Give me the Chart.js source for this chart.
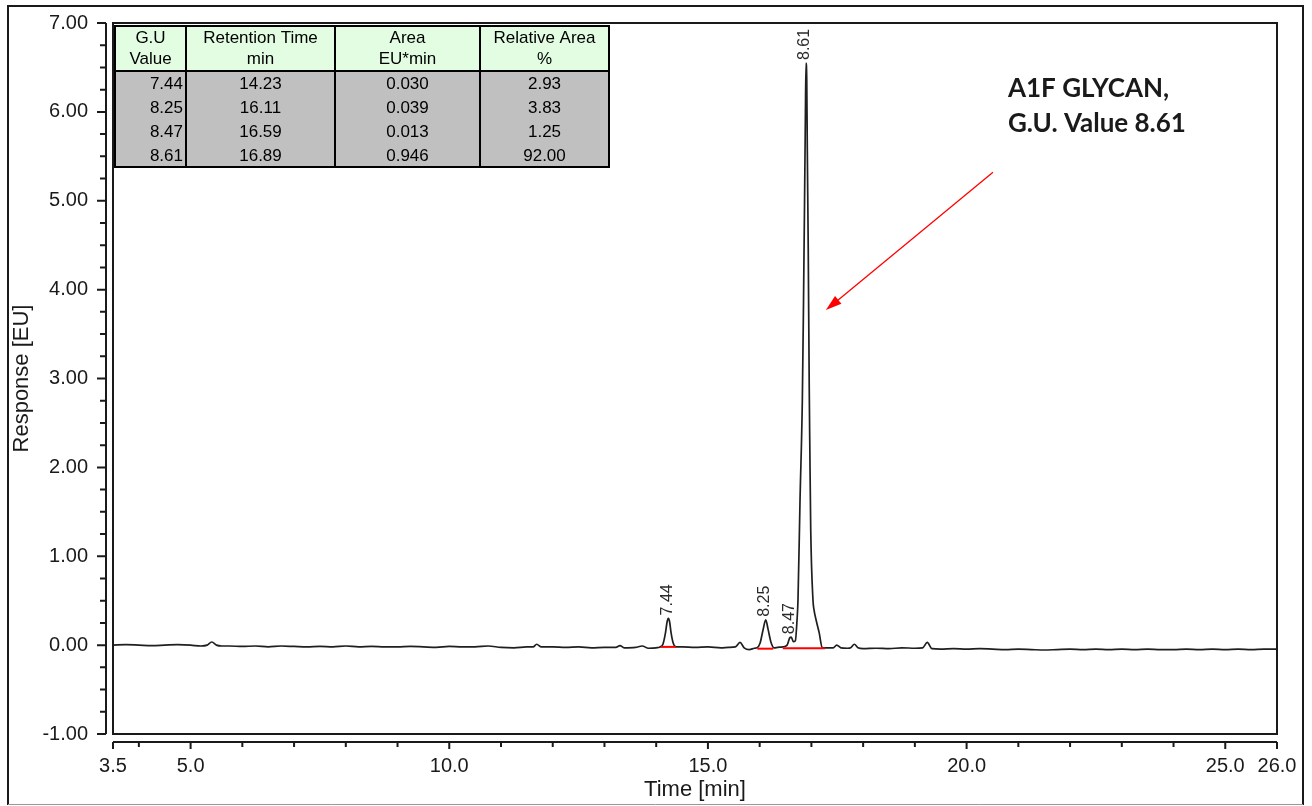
<!DOCTYPE html>
<html>
<head>
<meta charset="utf-8">
<title>A1F glycan chromatogram</title>
<script src="https://cdn.jsdelivr.net/npm/chart.js"></script>
<style>
  html, body { margin: 0; padding: 0; background: #ffffff; }
  #chart { display: block; }
</style>
</head>
<body>
<canvas id="chart" width="1312" height="806"></canvas>
<script>
// trace: time [min] / response [EU]
const traceTime = [
  3.5, 3.75, 4.0, 4.25, 4.5, 4.75, 5.0, 5.2, 5.32, 5.41, 5.5, 5.6, 5.75,
  6.0, 6.25, 6.5, 6.75, 7.0, 7.25, 7.5, 7.75, 8.0, 8.25, 8.5, 8.75,
  9.0, 9.25, 9.5, 9.75, 10.0, 10.25, 10.5, 10.75, 11.0, 11.25, 11.5, 11.62,
  11.69, 11.78, 12.0, 12.25, 12.5, 12.75, 13.0, 13.22, 13.3, 13.38, 13.6, 13.73,
  13.85, 14.0, 14.074, 14.13, 14.18, 14.21, 14.235, 14.26, 14.287, 14.33, 14.38,
  14.5, 14.75, 15.0, 15.25, 15.4, 15.53, 15.62, 15.7, 15.8, 15.9,
  15.949, 16.007, 16.065, 16.117, 16.162, 16.22, 16.278, 16.35,
  16.446, 16.53, 16.58, 16.61, 16.65, 16.69, 16.722, 16.741, 16.78, 16.825,
  16.848, 16.868, 16.883, 16.896, 16.91, 16.921, 16.939, 16.958, 16.97, 16.987,
  17.03, 17.05, 17.1, 17.15, 17.21, 17.3, 17.42, 17.49, 17.57, 17.7, 17.76,
  17.83, 17.9, 18.0, 18.25, 18.5, 18.75, 19.0, 19.15, 19.24, 19.33, 19.5,
  19.75, 20.0, 20.25, 20.5, 20.75, 21.0, 21.25, 21.5, 21.75, 22.0, 22.25,
  22.5, 22.75, 23.0, 23.25, 23.5, 23.75, 24.0, 24.25, 24.5, 24.75, 25.0,
  25.25, 25.5, 25.75, 26.0
];
const traceResp = [
  0.0, 0.005, 0.0, -0.005, 0.0, 0.005, 0.0, -0.01, 0.0, 0.035, 0.0, -0.01, -0.01,
  -0.015, -0.01, -0.02, -0.01, -0.015, -0.02, -0.015, -0.02, -0.01, -0.02, -0.015, -0.02,
  -0.02, -0.015, -0.02, -0.025, -0.015, -0.02, -0.02, -0.01, -0.025, -0.03, -0.02, -0.02,
  0.01, -0.02, -0.02, -0.025, -0.02, -0.03, -0.025, -0.025, -0.005, -0.03, -0.025, -0.01,
  -0.035, -0.03, -0.02, 0.01, 0.14, 0.26, 0.30, 0.26, 0.14, 0.02, -0.02,
  -0.02, -0.025, -0.02, -0.03, -0.025, -0.02, 0.03, -0.03, -0.05, -0.035,
  -0.03, 0.02, 0.17, 0.285, 0.18, 0.03, -0.03, -0.025,
  -0.02, 0.0, 0.08, 0.09, 0.04, 0.05, 0.28, 0.51, 1.63, 2.76,
  3.88, 5.01, 5.91, 6.55, 6.36, 5.57, 4.45, 2.91, 2.20, 1.30,
  0.51, 0.40, 0.26, 0.14, -0.03, -0.03, -0.03, 0.0, -0.03, -0.035, -0.03,
  0.01, -0.03, -0.04, -0.035, -0.04, -0.03, -0.035, -0.03, 0.03, -0.04, -0.045,
  -0.04, -0.045, -0.04, -0.045, -0.05, -0.045, -0.05, -0.055, -0.05, -0.045, -0.05,
  -0.045, -0.05, -0.045, -0.05, -0.045, -0.05, -0.05, -0.045, -0.05, -0.045, -0.05,
  -0.045, -0.05, -0.045, -0.045
];

// red integration baselines
const integStart = [14.09, 15.955, 16.446];
const integEnd = [14.378, 16.264, 17.264];
const integLevel = [-0.02, -0.04, -0.035];

// peak table
const guValues = [7.44, 8.25, 8.47, 8.61];
const retTimes = [14.23, 16.11, 16.59, 16.89];
const areas = [0.030, 0.039, 0.013, 0.946];
const relAreas = [2.93, 3.83, 1.25, 92.00];
const tableHeads = [['G.U', 'Value'], ['Retention Time', 'min'], ['Area', 'EU*min'], ['Relative Area', '%']];

// axes
const xTickValues = [3.5, 5.0, 10.0, 15.0, 20.0, 25.0, 26.0];
const xMin = 3.5, xMax = 26.0, xMinorStep = 1;
const yMin = -1, yMax = 7, yStep = 1, yMinorStep = 0.25;

const noteLines = ['A1F GLYCAN,', 'G.U. Value 8.61'];

const FONT = "'Liberation Sans', Arial, sans-serif";
Chart.defaults.font.family = FONT;
Chart.defaults.color = '#1a1a1a';

const decor = {
  id: 'decor',
  afterDraw(chart) {
    const ctx = chart.ctx;
    const a = chart.chartArea;
    const xs = chart.scales.x, ys = chart.scales.y;
    ctx.save();

    // outer frame
    ctx.strokeStyle = '#1a1a1a';
    ctx.lineWidth = 2;
    ctx.beginPath();
    ctx.moveTo(8, 805); ctx.lineTo(8, 6); ctx.lineTo(1303, 6); ctx.lineTo(1303, 805);
    ctx.stroke();
    ctx.strokeStyle = '#999';
    ctx.lineWidth = 1;
    ctx.beginPath(); ctx.moveTo(8, 804.5); ctx.lineTo(1303, 804.5); ctx.stroke();

    // plot box
    ctx.strokeStyle = '#1a1a1a';
    ctx.lineWidth = 2;
    ctx.strokeRect(a.left, a.top, a.right - a.left, a.bottom - a.top);

    // y axis, set off to the left of the box
    const ax = a.left - 7;
    ctx.beginPath();
    ctx.moveTo(ax, ys.getPixelForValue(yMax));
    ctx.lineTo(ax, ys.getPixelForValue(yMin));
    for (let v = yMin; v <= yMax + 1e-9; v += yMinorStep) {
      const py = ys.getPixelForValue(v);
      const major = Math.abs(v - Math.round(v)) < 1e-9;
      ctx.moveTo(ax, py);
      ctx.lineTo(ax - (major ? 9 : 6), py);
    }
    ctx.stroke();

    // x axis, set off below the box
    const ay = a.bottom + 8;
    ctx.beginPath();
    ctx.moveTo(xs.getPixelForValue(xMin), ay);
    ctx.lineTo(xs.getPixelForValue(xMax), ay);
    const xt = [xMin];
    for (let v = Math.ceil(xMin); v <= xMax; v += xMinorStep) xt.push(v);
    xt.forEach(v => {
      const px = xs.getPixelForValue(v);
      ctx.moveTo(px, ay);
      ctx.lineTo(px, ay + (xTickValues.includes(v) ? 7 : 5));
    });
    ctx.stroke();

    // peak labels
    ctx.fillStyle = '#2a2a2a';
    ctx.font = '16px ' + FONT;
    guValues.forEach((g, i) => {
      let apex = -Infinity;
      traceTime.forEach((t, j) => {
        if (Math.abs(t - retTimes[i]) < 0.05) apex = Math.max(apex, traceResp[j]);
      });
      const px = xs.getPixelForValue(retTimes[i]) - 1;
      const py = ys.getPixelForValue(apex) - 3;
      ctx.save();
      ctx.translate(px, py);
      ctx.rotate(-Math.PI / 2);
      ctx.textAlign = 'left';
      ctx.textBaseline = 'middle';
      ctx.fillText(g.toFixed(2), 0, 0);
      ctx.restore();
    });

    // peak table
    const tl = a.left + 2, tt = a.top + 3;
    const edges = [0, 71, 220, 365, 494].map(d => tl + d);
    const headH = 45, rowH = 24;
    const tb = tt + headH + rowH * guValues.length;
    ctx.fillStyle = '#e2fde2';
    ctx.fillRect(edges[0], tt, edges[4] - edges[0], headH);
    ctx.fillStyle = '#c0c0c0';
    ctx.fillRect(edges[0], tt + headH, edges[4] - edges[0], tb - tt - headH);
    ctx.strokeStyle = '#000';
    ctx.lineWidth = 2;
    ctx.strokeRect(edges[0], tt, edges[4] - edges[0], tb - tt);
    ctx.beginPath();
    for (let k = 1; k < 4; k++) { ctx.moveTo(edges[k], tt); ctx.lineTo(edges[k], tb); }
    ctx.moveTo(edges[0], tt + headH); ctx.lineTo(edges[4], tt + headH);
    ctx.stroke();

    ctx.fillStyle = '#000';
    ctx.font = '17px ' + FONT;
    ctx.textBaseline = 'middle';
    ctx.textAlign = 'center';
    tableHeads.forEach((h, k) => {
      const cx = (edges[k] + edges[k + 1]) / 2;
      ctx.fillText(h[0], cx, tt + 12);
      ctx.fillText(h[1], cx, tt + 33);
    });
    guValues.forEach((g, i) => {
      const cy = tt + headH + 13 + i * rowH;
      ctx.textAlign = 'right';
      ctx.fillText(g.toFixed(2), edges[1] - 3, cy);
      ctx.textAlign = 'center';
      ctx.fillText(retTimes[i].toFixed(2), (edges[1] + edges[2]) / 2, cy);
      ctx.fillText(areas[i].toFixed(3), (edges[2] + edges[3]) / 2, cy);
      ctx.fillText(relAreas[i].toFixed(2), (edges[3] + edges[4]) / 2, cy);
    });

    // annotation arrow
    const x0 = xs.getPixelForValue(20.51), y0 = ys.getPixelForValue(5.32);
    const x1 = xs.getPixelForValue(17.28), y1 = ys.getPixelForValue(3.77);
    const ang = Math.atan2(y1 - y0, x1 - x0);
    ctx.strokeStyle = '#ff0000';
    ctx.fillStyle = '#ff0000';
    ctx.lineWidth = 1.3;
    ctx.beginPath();
    ctx.moveTo(x0, y0);
    ctx.lineTo(x1 - 12 * Math.cos(ang), y1 - 12 * Math.sin(ang));
    ctx.stroke();
    ctx.beginPath();
    ctx.moveTo(x1, y1);
    ctx.lineTo(x1 - 16 * Math.cos(ang) + 5 * Math.sin(ang), y1 - 16 * Math.sin(ang) - 5 * Math.cos(ang));
    ctx.lineTo(x1 - 16 * Math.cos(ang) - 5 * Math.sin(ang), y1 - 16 * Math.sin(ang) + 5 * Math.cos(ang));
    ctx.closePath();
    ctx.fill();

    // annotation text
    ctx.fillStyle = '#1a1a1a';
    ctx.font = "bold 26px Lato, 'Open Sans', sans-serif";
    ctx.textAlign = 'left';
    ctx.textBaseline = 'alphabetic';
    const tx = xs.getPixelForValue(20.8);
    ctx.fillText(noteLines[0], tx, ys.getPixelForValue(6.17));
    ctx.fillText(noteLines[1], tx, ys.getPixelForValue(5.77));

    ctx.restore();
  }
};

const datasets = [];
integStart.forEach((s, i) => {
  datasets.push({
    data: [{ x: s, y: integLevel[i] }, { x: integEnd[i], y: integLevel[i] }],
    borderColor: '#ff0000',
    borderWidth: 2,
    pointRadius: 0,
    order: 0
  });
});
datasets.push({
  data: traceTime.map((t, i) => ({ x: t, y: traceResp[i] })),
  borderColor: '#1f1f1f',
  borderWidth: 1.7,
  pointRadius: 0,
  cubicInterpolationMode: 'monotone',
  order: 1
});

new Chart(document.getElementById('chart'), {
  type: 'line',
  data: { datasets: datasets },
  options: {
    responsive: false,
    animation: false,
    layout: { padding: { left: 0, right: 35, top: 23, bottom: 0 } },
    plugins: { legend: { display: false }, tooltip: { enabled: false } },
    scales: {
      x: {
        type: 'linear',
        min: xMin,
        max: xMax,
        afterBuildTicks: scale => { scale.ticks = xTickValues.map(v => ({ value: v })); },
        afterFit: scale => {
          scale.height = 72;
          scale.paddingLeft = 0;
          scale.paddingRight = 0;
        },
        grid: { display: false },
        border: { display: false },
        ticks: {
          autoSkip: false,
          maxRotation: 0,
          padding: 12,
          font: { size: 20 },
          callback: v => Number(v).toFixed(1)
        },
        title: { display: true, text: 'Time [min]', font: { size: 22 }, padding: { top: 0, bottom: 3 } }
      },
      y: {
        min: yMin,
        max: yMax,
        afterFit: scale => {
          scale.width = 113;
          scale.paddingTop = 0;
          scale.paddingBottom = 0;
        },
        grid: { display: false },
        border: { display: false },
        ticks: {
          stepSize: yStep,
          padding: 17,
          font: { size: 20 },
          callback: v => Number(v).toFixed(2)
        },
        title: { display: true, text: 'Response [EU]', font: { size: 22 }, padding: { top: 9, bottom: 0 } }
      }
    }
  },
  plugins: [decor]
});
</script>
</body>
</html>
